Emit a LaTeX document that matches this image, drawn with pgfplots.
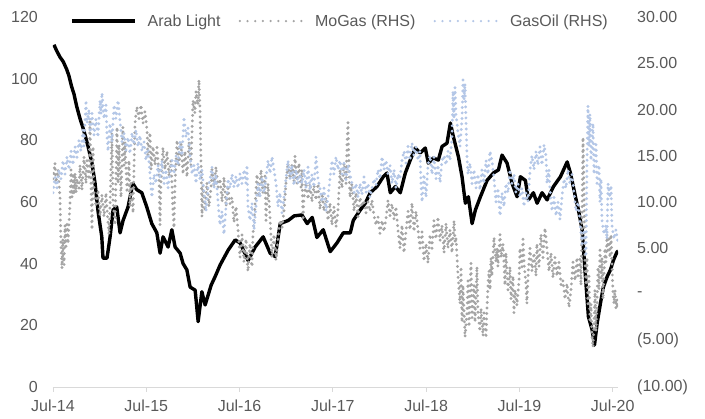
\documentclass[border=0pt]{standalone}
\usepackage{pgfplots}
\pgfplotsset{compat=1.18}
\usepackage{fontspec}
\setmainfont{Liberation Sans}
\definecolor{txt}{HTML}{595959}
\definecolor{mogas}{HTML}{A5A5A5}
\definecolor{gasoil}{HTML}{B4C7E7}
\definecolor{axisgray}{HTML}{D9D9D9}
\tikzset{
  mogasstyle/.style={mogas, line width=3.2pt, line cap=round, line join=round, dash pattern=on 0pt off 5.5pt},
  gasoilstyle/.style={gasoil, line width=3.2pt, line cap=round, line join=round, dash pattern=on 0pt off 5.5pt},
}
\begin{document}
\begin{tikzpicture}[font=\fontsize{16}{19}\selectfont]
\path[use as bounding box] (-53pt,-32pt) rectangle (652pt,387pt);
\begin{axis}[
  at={(0pt,0pt)}, anchor=south west,
  scale only axis, width=565pt, height=370pt,
  xmin=2014.5, xmax=2020.557, ymin=0, ymax=120,
  axis x line*=bottom, axis y line*=left,
  x axis line style={draw=axisgray, line width=0.9pt, -},
  y axis line style={draw=none},
  xtick={2014.5,2015.5,2016.5,2017.5,2018.5,2019.5,2020.5},
  xticklabels={Jul-14,Jul-15,Jul-16,Jul-17,Jul-18,Jul-19,Jul-20},
  ytick={0,20,40,60,80,100,120},
  yticklabels={0,20,40,60,80,100,120},
  tick align=outside, major tick length=5pt,
  x tick style={draw=axisgray, line width=0.9pt},
  y tick style={draw=none},
  tick label style={text=txt, font=\fontsize{16}{19}\selectfont},
  xticklabel style={inner sep=0pt, yshift=-8pt},
  yticklabel style={inner sep=0pt, xshift=-10pt},
  /pgf/number format/assume math mode=true,
]
\addplot[black, line width=3.4pt, line join=round] coordinates {
(2014.510,111) (2014.540,109) (2014.575,107) (2014.610,105.5) (2014.647,103) (2014.670,101) (2014.700,97.4) (2014.725,95) (2014.754,91) (2014.790,87) (2014.822,84)
(2014.850,81) (2014.876,78) (2014.918,72.6) (2014.951,66) (2014.983,57) (2015.023,48.7) (2015.036,41.8)
(2015.079,41.8) (2015.112,48.7) (2015.144,57.4) (2015.183,58.4) (2015.219,50) (2015.251,54)
(2015.305,58.4) (2015.355,66) (2015.398,64) (2015.452,63) (2015.505,58.4) (2015.559,53)
(2015.613,50) (2015.648,43.4) (2015.680,48.7) (2015.734,45.4) (2015.774,51) (2015.809,45.4)
(2015.863,43.4) (2015.895,40) (2015.935,38) (2015.970,32.4) (2016.024,31.4) (2016.056,21.2)
(2016.096,30.9) (2016.131,26.6) (2016.195,33) (2016.238,35.8) (2016.292,39.6) (2016.378,44.4)
(2016.453,47.7) (2016.506,46.7) (2016.592,41) (2016.667,45.4) (2016.753,48.7) (2016.828,43.4)
(2016.882,42.3) (2016.936,53) (2017.021,54) (2017.086,55.5) (2017.168,55.8) (2017.225,53)
(2017.279,55) (2017.329,48.5) (2017.397,51) (2017.472,43.9) (2017.544,46.7) (2017.612,50)
(2017.687,50) (2017.719,54) (2017.794,57.4) (2017.848,59.6) (2017.901,63) (2017.973,65)
(2018.041,68.2) (2018.080,69.4) (2018.116,63) (2018.170,65) (2018.223,63) (2018.277,69.4)
(2018.330,73.6) (2018.384,77.5) (2018.438,75.9) (2018.491,77.5) (2018.524,72.6) (2018.577,74.3)
(2018.631,73.6) (2018.671,78) (2018.724,79.1) (2018.760,85.6) (2018.792,81.2) (2018.846,74.7)
(2018.885,68.2) (2018.921,59.6) (2018.953,61.7) (2018.993,53) (2019.028,57.4) (2019.082,61.7)
(2019.153,67) (2019.221,69.4) (2019.275,70.4) (2019.314,75.2) (2019.368,72.6) (2019.422,66)
(2019.475,61.7) (2019.511,68.2) (2019.564,67) (2019.597,60.7) (2019.650,63) (2019.690,59.6)
(2019.743,63) (2019.797,60.7) (2019.865,65) (2019.940,68.2) (2020.012,73) (2020.047,69.4)
(2020.101,61.7) (2020.133,57.4) (2020.173,51) (2020.208,35.8) (2020.240,22.8) (2020.280,18.5)
(2020.305,13.6) (2020.334,20.8) (2020.369,27.2) (2020.401,32.5) (2020.441,35.8) (2020.476,38)
(2020.509,41.2) (2020.548,43.9) (2020.557,44)
};
\end{axis}
\begin{axis}[
  at={(0pt,0pt)}, anchor=south west,
  scale only axis, width=565pt, height=370pt,
  xmin=2014.5, xmax=2020.557, ymin=-10, ymax=30,
  axis x line=none, axis y line*=right,
  y axis line style={draw=none},
  ytick={-10,-5,0,5,10,15,20,25,30},
  yticklabels={(10.00),(5.00),-,5.00,10.00,15.00,20.00,25.00,30.00},
  y tick style={draw=none},
  tick label style={text=txt, font=\fontsize{16}{19}\selectfont},
  yticklabel style={anchor=west, inner sep=0pt, xshift=19pt},
  /pgf/number format/assume math mode=true,
  legend image code/.code={\draw[#1] (0pt,0pt) -- (63pt,0pt);},
  legend style={draw=none, fill=none, at={(0.508,0.989)}, anchor=center,
    legend columns=3, text=txt, font=\fontsize{16}{19}\selectfont,
    /tikz/every odd column/.append style={column sep=9pt},
    /tikz/every even column/.append style={column sep=16pt}},
]
\addlegendimage{black, line width=3.4pt}
\addlegendentry{Arab Light}
\addlegendimage{mogas, line width=2.5pt, line cap=round, dash pattern=on 0pt off 7.7pt}
\addlegendentry{MoGas (RHS)}
\addlegendimage{gasoil, line width=2.5pt, line cap=round, dash pattern=on 0pt off 7.7pt}
\addlegendentry{GasOil (RHS)}
\addplot[mogasstyle, forget plot] coordinates {
(2014.500,12.5) (2014.521,14.2) (2014.532,12.1) (2014.554,13.5) (2014.575,10.5) (2014.586,5.0)
(2014.596,2.8) (2014.607,6.0) (2014.618,3.2) (2014.629,7.5) (2014.639,5.2) (2014.650,7.6)
(2014.661,5.5) (2014.682,9.9) (2014.693,13.5) (2014.704,10.5) (2014.714,12.8) (2014.725,10.8)
(2014.736,13.1) (2014.747,11.0) (2014.757,12.5) (2014.779,11.5) (2014.789,14.0) (2014.811,11.3)
(2014.832,14.9) (2014.854,12.0) (2014.864,14.5) (2014.886,12.4) (2014.897,18.9) (2014.907,12.0)
(2014.918,7.0) (2014.929,16.0) (2014.940,11.0) (2014.961,9.5) (2014.982,11.3) (2015.004,8.5)
(2015.025,10.8) (2015.047,8.4) (2015.068,11.0) (2015.079,9.2) (2015.100,6.5) (2015.111,9.5)
(2015.132,17.5) (2015.143,10.2) (2015.165,7.5) (2015.186,18.1) (2015.197,12.0) (2015.208,16.2)
(2015.229,10.5) (2015.250,18.1) (2015.261,14.0) (2015.272,16.5) (2015.293,11.0) (2015.315,14.5)
(2015.325,9.5) (2015.336,12.0) (2015.358,8.8) (2015.379,18.5) (2015.400,20.3) (2015.422,19.0)
(2015.443,20.5) (2015.465,18.5) (2015.486,19.8) (2015.508,17.8) (2015.518,15.0) (2015.540,17.5)
(2015.551,13.5) (2015.572,16.0) (2015.593,14.0) (2015.615,15.9) (2015.636,13.0) (2015.647,7.5)
(2015.658,12.5) (2015.679,15.9) (2015.701,13.5) (2015.722,15.5) (2015.744,12.8) (2015.765,14.5)
(2015.786,9.0) (2015.797,7.2) (2015.808,12.0) (2015.829,16.7) (2015.851,14.0) (2015.872,16.3)
(2015.894,13.0) (2015.915,15.5) (2015.936,12.7) (2015.958,16.5) (2015.979,14.0) (2016.001,21.0)
(2016.022,19.6) (2016.033,22.0) (2016.054,20.5) (2016.065,23.2) (2016.076,20.0) (2016.087,14.0)
(2016.097,8.4) (2016.108,11.8) (2016.129,9.0) (2016.151,12.1) (2016.172,9.5) (2016.194,11.5)
(2016.204,13.5) (2016.226,11.8) (2016.247,13.8) (2016.269,11.6) (2016.290,12.5) (2016.312,10.0)
(2016.333,12.7) (2016.355,9.5) (2016.376,11.5) (2016.397,9.8) (2016.419,10.5) (2016.440,7.8)
(2016.462,9.5) (2016.483,7.0) (2016.505,4.0) (2016.526,6.5) (2016.548,3.5) (2016.569,6.0)
(2016.590,2.5) (2016.612,5.5) (2016.633,3.0) (2016.644,6.5) (2016.665,9.5) (2016.687,13.0)
(2016.708,10.5) (2016.730,13.5) (2016.751,11.0) (2016.773,12.8) (2016.783,8.0) (2016.805,12.0)
(2016.826,8.4) (2016.848,4.0) (2016.869,6.5) (2016.891,3.7) (2016.912,6.0) (2016.933,8.0)
(2016.955,7.2) (2016.976,9.0) (2016.998,12.0) (2017.019,14.2) (2017.041,12.5) (2017.062,14.0)
(2017.084,12.2) (2017.094,15.0) (2017.116,12.0) (2017.137,14.2) (2017.159,11.6) (2017.169,13.5)
(2017.180,8.0) (2017.191,10.5) (2017.212,12.1) (2017.234,10.3) (2017.255,12.0) (2017.276,10.0)
(2017.298,11.8) (2017.319,10.2) (2017.341,12.0) (2017.362,9.2) (2017.384,11.0) (2017.405,9.0)
(2017.427,10.5) (2017.448,8.0) (2017.469,9.9) (2017.491,7.5) (2017.512,9.5) (2017.534,7.3)
(2017.555,9.0) (2017.577,13.5) (2017.598,11.5) (2017.620,14.2) (2017.641,12.0) (2017.652,16.0)
(2017.662,18.6) (2017.673,13.5) (2017.684,10.5) (2017.705,12.0) (2017.727,9.0) (2017.748,11.0)
(2017.770,8.4) (2017.791,10.5) (2017.812,9.5) (2017.834,10.2) (2017.855,8.8) (2017.877,10.0)
(2017.898,9.0) (2017.920,10.2) (2017.941,8.5) (2017.963,7.5) (2017.984,8.4) (2018.005,6.6)
(2018.027,8.0) (2018.048,6.8) (2018.070,8.2) (2018.091,10.2) (2018.113,8.5) (2018.134,9.8)
(2018.156,8.1) (2018.177,9.5) (2018.198,7.0) (2018.220,5.0) (2018.241,7.5) (2018.263,4.5)
(2018.284,6.8) (2018.306,9.0) (2018.327,7.0) (2018.348,9.9) (2018.370,6.8) (2018.391,9.0)
(2018.413,7.0) (2018.434,5.0) (2018.456,6.8) (2018.477,3.6) (2018.499,5.5) (2018.520,3.4)
(2018.541,6.5) (2018.563,5.0) (2018.584,8.0) (2018.606,6.0) (2018.627,8.4) (2018.649,5.8)
(2018.670,7.5) (2018.692,4.5) (2018.713,7.7) (2018.734,5.0) (2018.756,7.0) (2018.777,4.5)
(2018.799,8.0) (2018.810,5.5) (2018.820,6.2) (2018.842,2.0) (2018.863,-1.0) (2018.874,3.0)
(2018.885,-3.0) (2018.895,1.0) (2018.917,-4.6) (2018.938,-2.0) (2018.949,1.5) (2018.960,-3.5)
(2018.970,0.0) (2018.981,3.4) (2018.992,-2.5) (2019.013,1.0) (2019.024,-3.0) (2019.035,0.2)
(2019.045,3.0) (2019.056,-2.0) (2019.077,-4.0) (2019.088,-1.5) (2019.110,-4.5) (2019.120,-2.0)
(2019.142,-4.7) (2019.152,-1.5) (2019.163,1.0) (2019.174,2.6) (2019.185,0.5) (2019.195,4.0)
(2019.206,2.0) (2019.228,6.2) (2019.249,3.5) (2019.260,5.0) (2019.270,3.0) (2019.292,6.5)
(2019.303,4.0) (2019.324,5.5) (2019.335,3.0) (2019.345,1.0) (2019.356,4.5) (2019.378,0.5)
(2019.399,3.0) (2019.410,-0.5) (2019.431,2.0) (2019.442,-2.0) (2019.453,0.5) (2019.474,-1.2)
(2019.496,1.5) (2019.506,5.0) (2019.528,3.0) (2019.538,6.0) (2019.549,3.5) (2019.571,1.0)
(2019.581,-1.0) (2019.592,2.0) (2019.614,5.0) (2019.635,2.5) (2019.656,4.5) (2019.678,2.0)
(2019.688,5.5) (2019.710,3.0) (2019.731,6.5) (2019.753,4.0) (2019.774,7.2) (2019.796,5.0)
(2019.817,2.5) (2019.839,4.5) (2019.860,1.8) (2019.881,4.0) (2019.903,2.0) (2019.924,3.5)
(2019.946,1.0) (2019.967,1.5) (2019.989,-0.5) (2020.010,1.2) (2020.032,-1.4) (2020.053,0.5)
(2020.074,3.5) (2020.096,1.5) (2020.117,4.0) (2020.128,2.0) (2020.149,3.8) (2020.160,1.0)
(2020.171,8.0) (2020.182,17.0) (2020.192,12.0) (2020.203,3.4) (2020.214,1.0) (2020.224,4.0)
(2020.235,-1.0) (2020.246,2.0) (2020.257,-3.0) (2020.267,-1.0) (2020.278,-4.5) (2020.289,-5.7)
(2020.300,-3.0) (2020.310,0.5) (2020.321,-4.0) (2020.332,-1.0) (2020.342,3.0) (2020.353,0.5)
(2020.364,4.8) (2020.375,1.5) (2020.385,4.0) (2020.396,-0.5) (2020.407,2.0) (2020.417,5.0)
(2020.428,3.5) (2020.439,6.5) (2020.450,4.5) (2020.460,6.0) (2020.471,4.0) (2020.482,6.5)
(2020.492,3.5) (2020.503,0.2) (2020.514,-1.0) (2020.525,0.5) (2020.535,-1.5) (2020.546,-0.5)
(2020.557,-1.7)
};
\addplot[gasoilstyle, forget plot] coordinates {
(2014.500,11.0) (2014.521,12.7) (2014.543,11.5) (2014.564,13.5) (2014.586,12.5) (2014.607,14.5)
(2014.629,13.0) (2014.650,14.9) (2014.672,13.5) (2014.693,15.5) (2014.714,14.0) (2014.736,16.0)
(2014.757,14.8) (2014.779,16.7) (2014.800,15.5) (2014.822,17.8) (2014.832,16.0) (2014.854,21.0)
(2014.864,18.5) (2014.886,20.0) (2014.897,17.5) (2014.918,19.6) (2014.940,17.2) (2014.961,19.0)
(2014.982,17.0) (2015.004,21.0) (2015.015,19.5) (2015.025,21.8) (2015.047,19.0) (2015.068,20.5)
(2015.079,17.0) (2015.090,15.5) (2015.111,18.5) (2015.132,16.5) (2015.154,20.5) (2015.175,19.0)
(2015.197,21.0) (2015.218,18.8) (2015.240,16.5) (2015.261,17.5) (2015.283,15.6) (2015.304,17.0)
(2015.325,15.2) (2015.347,17.5) (2015.368,16.2) (2015.390,17.8) (2015.411,16.0) (2015.433,17.2)
(2015.454,15.5) (2015.476,16.5) (2015.497,14.5) (2015.518,15.8) (2015.540,13.0) (2015.551,11.5)
(2015.561,10.5) (2015.583,13.0) (2015.604,12.0) (2015.626,14.0) (2015.647,12.5) (2015.668,14.5)
(2015.690,12.0) (2015.711,13.5) (2015.733,11.5) (2015.754,13.0) (2015.776,14.5) (2015.797,13.0)
(2015.819,15.0) (2015.840,14.0) (2015.861,16.5) (2015.883,15.0) (2015.904,19.2) (2015.926,17.0)
(2015.947,18.0) (2015.969,15.0) (2015.990,13.0) (2016.012,14.0) (2016.033,12.0) (2016.054,14.2)
(2016.076,12.4) (2016.097,13.5) (2016.119,11.0) (2016.140,9.0) (2016.162,11.5) (2016.183,12.5)
(2016.204,13.8) (2016.226,11.5) (2016.247,13.0) (2016.269,10.0) (2016.290,7.5) (2016.312,9.0)
(2016.333,6.5) (2016.355,9.5) (2016.376,12.5) (2016.397,11.5) (2016.419,13.0) (2016.440,11.6)
(2016.462,12.8) (2016.483,11.5) (2016.505,13.1) (2016.526,12.0) (2016.548,13.5) (2016.569,12.0)
(2016.580,14.0) (2016.590,9.5) (2016.612,8.0) (2016.633,9.9) (2016.655,7.0) (2016.676,9.5)
(2016.698,12.0) (2016.719,10.5) (2016.740,12.7) (2016.762,11.0) (2016.783,12.5) (2016.805,14.5)
(2016.826,13.1) (2016.848,14.9) (2016.869,13.5) (2016.891,12.0) (2016.912,9.5) (2016.933,11.0)
(2016.955,8.8) (2016.976,10.5) (2016.998,12.5) (2017.019,14.5) (2017.041,12.5) (2017.062,14.0)
(2017.084,11.8) (2017.105,13.5) (2017.126,12.0) (2017.148,13.0) (2017.169,12.0) (2017.191,13.5)
(2017.212,11.5) (2017.234,13.8) (2017.255,11.3) (2017.276,13.0) (2017.298,11.6) (2017.319,14.9)
(2017.341,12.5) (2017.362,11.5) (2017.384,10.0) (2017.405,11.5) (2017.427,9.0) (2017.448,10.5)
(2017.469,12.5) (2017.491,14.5) (2017.512,13.0) (2017.534,14.9) (2017.555,13.5) (2017.577,14.5)
(2017.598,13.0) (2017.620,14.2) (2017.641,12.4) (2017.662,14.0) (2017.684,13.0) (2017.705,12.0)
(2017.727,11.0) (2017.748,12.0) (2017.770,10.5) (2017.791,12.0) (2017.812,10.8) (2017.834,12.7)
(2017.855,11.0) (2017.877,12.0) (2017.898,10.5) (2017.920,11.5) (2017.941,12.5) (2017.963,11.8)
(2017.984,13.5) (2018.005,12.5) (2018.027,14.9) (2018.048,13.5) (2018.070,14.5) (2018.091,13.0)
(2018.113,14.0) (2018.134,12.0) (2018.156,13.5) (2018.177,11.5) (2018.198,13.0) (2018.220,12.5)
(2018.241,14.5) (2018.263,15.5) (2018.284,14.2) (2018.306,16.0) (2018.327,14.5) (2018.348,16.4)
(2018.370,15.0) (2018.391,16.0) (2018.413,14.5) (2018.434,15.5) (2018.445,12.0) (2018.456,10.0)
(2018.477,13.0) (2018.499,10.5) (2018.520,14.0) (2018.541,15.0) (2018.563,13.0) (2018.584,14.9)
(2018.606,12.5) (2018.627,14.0) (2018.649,12.1) (2018.670,14.5) (2018.692,15.0) (2018.713,14.0)
(2018.734,15.5) (2018.756,14.5) (2018.777,17.0) (2018.788,22.0) (2018.799,19.0) (2018.810,22.4)
(2018.820,19.5) (2018.842,17.5) (2018.863,16.0) (2018.885,19.0) (2018.895,23.2) (2018.906,21.0)
(2018.917,22.8) (2018.927,19.0) (2018.938,15.0) (2018.949,13.0) (2018.970,14.2) (2018.992,12.0)
(2019.013,13.5) (2019.035,11.5) (2019.056,13.0) (2019.077,11.3) (2019.099,13.5) (2019.120,12.0)
(2019.142,14.5) (2019.163,13.0) (2019.185,15.5) (2019.206,14.5) (2019.228,12.5) (2019.249,10.0)
(2019.270,11.5) (2019.292,8.5) (2019.313,11.0) (2019.335,9.5) (2019.356,12.0) (2019.378,11.0)
(2019.399,13.5) (2019.420,12.0) (2019.442,13.0) (2019.463,11.0) (2019.485,12.0) (2019.506,10.5)
(2019.528,11.5) (2019.549,9.5) (2019.571,11.0) (2019.592,10.0) (2019.614,13.5) (2019.635,15.0)
(2019.656,13.5) (2019.678,15.5) (2019.699,14.0) (2019.721,16.0) (2019.742,14.0) (2019.764,16.2)
(2019.785,15.0) (2019.796,12.0) (2019.817,13.5) (2019.828,11.3) (2019.849,9.0) (2019.871,10.5)
(2019.892,8.5) (2019.914,10.0) (2019.935,8.1) (2019.956,10.5) (2019.978,12.5) (2019.999,11.5)
(2020.021,13.5) (2020.042,12.0) (2020.064,13.0) (2020.085,11.0) (2020.107,9.0) (2020.128,10.0)
(2020.149,8.0) (2020.171,5.5) (2020.192,7.0) (2020.214,4.1) (2020.224,14.0) (2020.235,20.4)
(2020.246,16.0) (2020.257,19.5) (2020.267,14.5) (2020.289,18.5) (2020.300,13.0) (2020.321,16.5)
(2020.332,12.0) (2020.353,14.0) (2020.364,10.0) (2020.375,12.5) (2020.385,8.0) (2020.407,6.5)
(2020.428,7.5) (2020.439,6.0) (2020.450,12.0) (2020.471,10.5) (2020.482,11.8) (2020.492,7.5)
(2020.514,6.0) (2020.535,7.0) (2020.557,5.6)
};
\end{axis}
\end{tikzpicture}
\end{document}
